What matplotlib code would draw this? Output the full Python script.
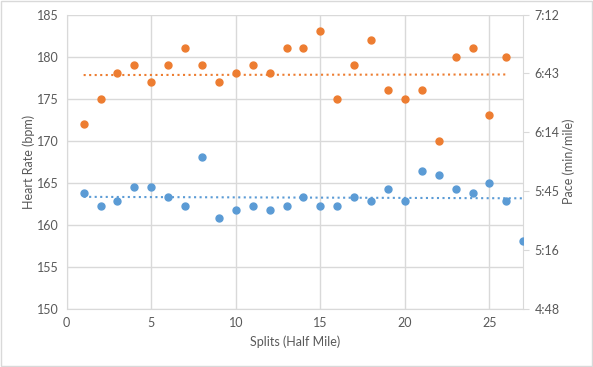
import matplotlib.pyplot as plt
import numpy as np
from matplotlib.ticker import FuncFormatter

# Splits (half mile)
splits_hr = list(range(1, 27))
splits_pace = list(range(1, 28))

# Heart rate (bpm) - orange
heart_rate = [172, 175, 178, 179, 177, 179, 181, 179, 177, 178, 179, 178, 181,
              181, 183, 175, 179, 182, 176, 175, 176, 170, 180, 181, 173, 180]

# Pace in seconds per mile - blue
pace_sec = [344.5, 338.5, 340.5, 347.5, 347.5, 342.5, 338.5, 362.5, 332.5, 336.5, 338.5, 336.5, 338.5,
            342.5, 338.5, 338.5, 342.5, 340.5, 346.5, 340.5, 355.5, 353.5, 346.5, 344.5, 349.5, 340.5, 321]

orange = '#ED7D31'
blue = '#5B9BD5'
grid_c = '#D9D9D9'
text_c = '#595959'

plt.rcParams['font.family'] = ['Lato', 'DejaVu Sans']
plt.rcParams['font.size'] = 9

fig = plt.figure(figsize=(5.93, 3.67), dpi=100)
ax = fig.add_axes([0.1125, 0.159, 0.77, 0.801])
ax2 = ax.twinx()

# left axis: heart rate
ax.plot(splits_hr, heart_rate, 'o', color=orange, markersize=5, zorder=3)
x = np.array(splits_hr)
k, b = np.polyfit(x, heart_rate, 1)
ax.plot([x[0], x[-1]], [k * x[0] + b, k * x[-1] + b], ':', color=orange, lw=1.5)

# right axis: pace
ax2.plot(splits_pace, pace_sec, 'o', color=blue, markersize=5, zorder=3)
x2 = np.array(splits_pace)
k2, b2 = np.polyfit(x2, pace_sec, 1)
ax2.plot([x2[0], x2[-1]], [k2 * x2[0] + b2, k2 * x2[-1] + b2], ':', color=blue, lw=1.5)

ax.set_xlim(0, 27)
ax.set_ylim(150, 185)
ax.set_xticks([0, 5, 10, 15, 20, 25])
ax.set_yticks(range(150, 186, 5))
ax2.set_ylim(288, 432)
ax2.set_yticks(np.linspace(288, 432, 6))
ax2.yaxis.set_major_formatter(FuncFormatter(lambda v, p: '%d:%02d' % (int(round(v, 3)) // 60, int(round(v, 3)) % 60)))

ax.grid(True, color=grid_c, lw=1)
ax.set_axisbelow(True)
for a in (ax, ax2):
    for s in a.spines.values():
        s.set_visible(False)
ax2.spines['right'].set_visible(True)
ax2.spines['right'].set_color(grid_c)
ax.spines['left'].set_visible(True)
ax.spines['left'].set_color(grid_c)
ax.spines['bottom'].set_visible(True)
ax.spines['bottom'].set_color(grid_c)

ax.tick_params(axis='both', length=0, colors=text_c, labelsize=9, pad=6)
ax2.tick_params(axis='y', length=4, color=grid_c, colors=text_c, labelsize=9, pad=4)
ax2.tick_params(axis='y', color=grid_c)

ax.set_xlabel('Splits (Half Mile)', color=text_c, fontsize=9, labelpad=5)
ax.set_ylabel('Heart Rate (bpm)', color=text_c, fontsize=9, labelpad=1)
ax2.set_ylabel('Pace (min/mile)', color=text_c, fontsize=9, labelpad=2)

fig.patches.append(plt.Rectangle((0.001, 0.002), 0.997, 0.995, transform=fig.transFigure,
                                 fill=False, edgecolor=grid_c, lw=1))

fig.savefig('out.png', dpi=100)
